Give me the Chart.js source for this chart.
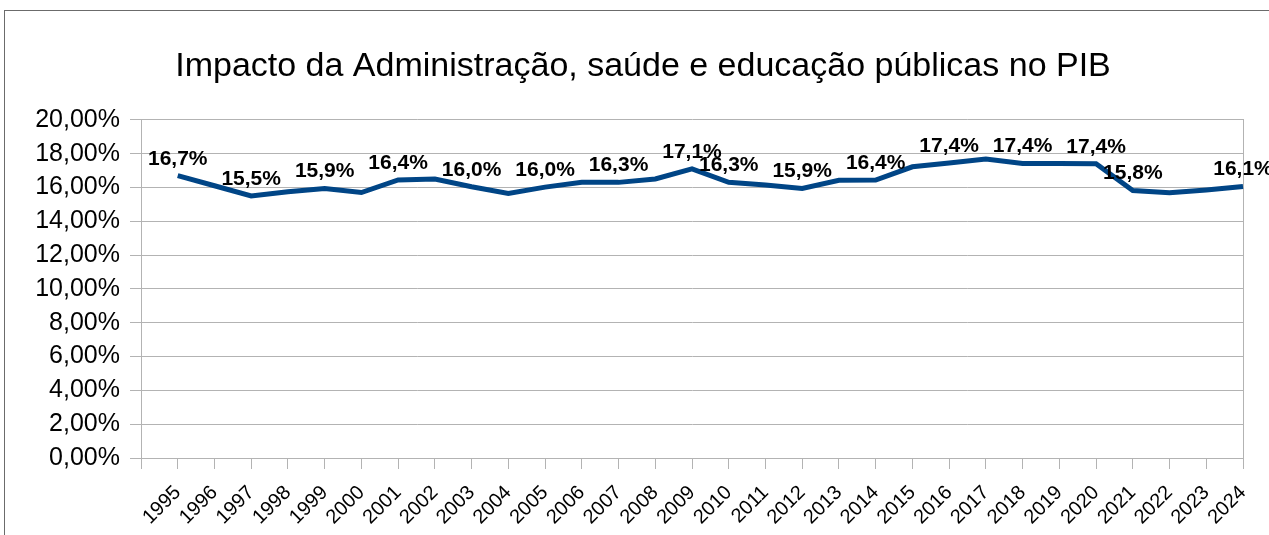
<!DOCTYPE html>
<html>
<head>
<meta charset="utf-8">
<script src="https://cdn.jsdelivr.net/npm/chart.js@4"></script>
<style>
html, body { margin: 0; padding: 0; background: #fff; }
#wrap { width: 1269px; height: 535px; position: relative; }
</style>
</head>
<body>
<div id="wrap"><canvas id="c" width="1269" height="535"></canvas></div>
<script>
const years = ['1995','1996','1997','1998','1999','2000','2001','2002','2003','2004','2005','2006','2007','2008','2009','2010','2011','2012','2013','2014','2015','2016','2017','2018','2019','2020','2021','2022','2023','2024'];
const shares = [16.7,16.1,15.5,15.75,15.94,15.7,16.44,16.5,16.04,15.65,16.02,16.3,16.3,16.5,17.1,16.3,16.15,15.94,16.42,16.44,17.22,17.44,17.68,17.42,17.42,17.4,15.82,15.68,15.85,16.06];
const labelledYears = ['1995','1997','1999','2001','2003','2005','2007','2009','2010','2012','2014','2016','2018','2020','2021','2024'];
const yTicks = [0,2,4,6,8,10,12,14,16,18,20];
const titleText = 'Impacto da Administração, saúde e educação públicas no PIB';

const FONT = '"Liberation Sans", Arial, sans-serif';
const GRID = '#b3b3b3';
const LINE = '#004586';

const labels = [''].concat(years);
const data = [null].concat(shares);

const fmtPct = (v, d) => v.toFixed(d).replace('.', ',') + '%';

const frame = {
  id: 'frame',
  beforeDraw(chart) {
    const ctx = chart.ctx;
    ctx.save();
    ctx.fillStyle = '#fff';
    ctx.fillRect(0, 0, chart.width, chart.height);
    ctx.strokeStyle = '#6b6b6b';
    ctx.lineWidth = 1;
    ctx.strokeRect(4.5, 10.5, 1400, 700);
    ctx.restore();
  }
};

const valueLabels = {
  id: 'valueLabels',
  afterDatasetsDraw(chart) {
    const ctx = chart.ctx;
    const meta = chart.getDatasetMeta(0);
    ctx.save();
    ctx.font = 'bold 21px ' + FONT;
    ctx.fillStyle = '#000';
    ctx.textAlign = 'center';
    ctx.textBaseline = 'alphabetic';
    meta.data.forEach((pt, i) => {
      const lab = labels[i];
      if (!labelledYears.includes(lab)) return;
      const v = data[i];
      if (v == null) return;
      ctx.fillText(fmtPct(v, 1), pt.x, pt.y - 11);
    });
    ctx.restore();
  }
};

new Chart(document.getElementById('c'), {
  type: 'line',
  data: {
    labels: labels,
    datasets: [{
      data: data,
      borderColor: LINE,
      backgroundColor: LINE,
      borderWidth: 5,
      pointRadius: 0,
      pointHoverRadius: 0,
      tension: 0,
      spanGaps: false,
      clip: false
    }]
  },
  options: {
    responsive: false,
    animation: false,
    events: [],
    layout: { padding: { left: 17, right: 0, top: 0, bottom: 0 } },
    plugins: {
      legend: { display: false },
      tooltip: { enabled: false },
      title: {
        display: true,
        text: titleText,
        color: '#000',
        font: { family: FONT, size: 34, weight: 'normal' },
        padding: { top: 46, bottom: 33 }
      }
    },
    scales: {
      x: {
        type: 'category',
        offset: false,
        grid: {
          display: true,
          drawOnChartArea: false,
          drawTicks: true,
          tickLength: 11,
          color: GRID,
          tickColor: GRID
        },
        border: { display: true, color: GRID, width: 1 },
        ticks: {
          autoSkip: false,
          minRotation: 45,
          maxRotation: 45,
          padding: 12,
          color: '#000',
          font: { family: FONT, size: 20 }
        },
        afterFit(scale) {
          scale.height = 77;
          scale.paddingLeft = 0;
          scale.paddingRight = 0;
        }
      },
      y: {
        min: 0,
        max: 20,
        afterBuildTicks(scale) { scale.ticks = yTicks.map(v => ({ value: v })); },
        grid: {
          color: GRID,
          tickColor: GRID,
          tickLength: 11,
          drawTicks: true
        },
        border: { display: true, color: GRID, width: 1 },
        ticks: {
          padding: 10,
          color: '#000',
          font: { family: FONT, size: 25 },
          callback: (v) => fmtPct(v, 2)
        },
        afterFit(scale) { scale.width = 124; }
      },
      y2: {
        position: 'right',
        min: 0,
        max: 20,
        grid: { display: false, drawOnChartArea: false, drawTicks: false },
        border: { display: true, color: GRID, width: 1 },
        ticks: { display: false },
        afterFit(scale) { scale.width = 26; }
      }
    }
  },
  plugins: [frame, valueLabels]
});
</script>
</body>
</html>
